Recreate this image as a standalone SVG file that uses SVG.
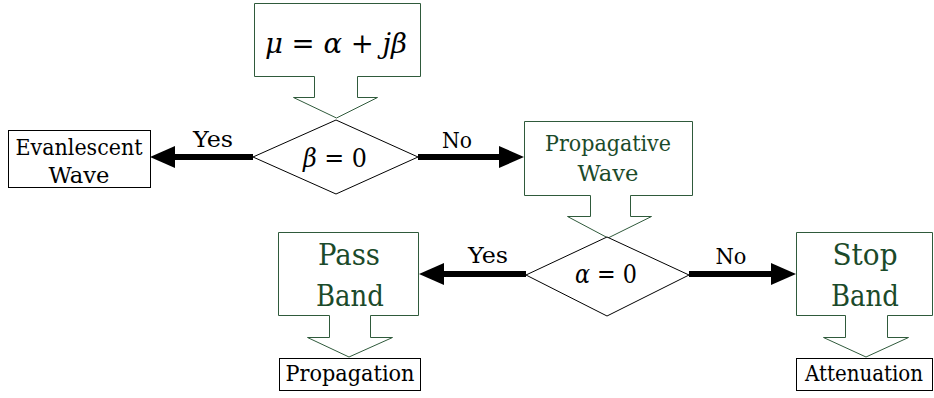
<svg xmlns="http://www.w3.org/2000/svg" width="934" height="398" viewBox="0 0 934 398">
<defs>
<style>
.bg{fill:#fff}
.box{fill:#fff;stroke:#000;stroke-width:1}
.call{fill:#fff;stroke:#2f5a3b;stroke-width:1}
.dia{fill:#fff;stroke:#000;stroke-width:1}
.t{font-family:"DejaVu Serif",serif;font-size:23px;fill:#000;text-anchor:middle}
.g{fill:#1b4a2a}
.big{font-size:30px}
.sm{font-size:22px}
.m{font-family:"DejaVu Serif",serif;font-size:26px;fill:#000;text-anchor:middle}
.mu{font-size:28px}
.i{font-style:italic}
.arr{stroke:#000;stroke-width:6;fill:none;marker-end:url(#ah)}
</style>
<marker id="ah" viewBox="0 0 25 22" refX="5" refY="11" markerWidth="25" markerHeight="22" markerUnits="userSpaceOnUse" orient="auto">
<path d="M0,0 L25,11 L0,22 Z" fill="#000"/>
</marker>
</defs>
<rect class="bg" x="0" y="0" width="934" height="398"/>

<g id="connectors">
<line class="arr" x1="253" y1="157" x2="170" y2="157"/>
<line class="arr" x1="418" y1="157" x2="504" y2="157"/>
<line class="arr" x1="526" y1="274" x2="439" y2="274"/>
<line class="arr" x1="689" y1="274" x2="776" y2="274"/>
<text class="t" x="213" y="147" textLength="40" lengthAdjust="spacingAndGlyphs">Yes</text>
<text class="t" x="457" y="148" textLength="30" lengthAdjust="spacingAndGlyphs">No</text>
<text class="t" x="488" y="263" textLength="40" lengthAdjust="spacingAndGlyphs">Yes</text>
<text class="t" x="731" y="264" textLength="31" lengthAdjust="spacingAndGlyphs">No</text>
</g>

<g id="mu">
<path class="call" d="M254.5,3.5 H420.5 V76.5 H357.5 V97.5 H377.5 L336.5,118 L293.5,97.5 H314.5 V76.5 H254.5 Z"/>
<text class="m mu" x="336" y="53" textLength="142" lengthAdjust="spacingAndGlyphs"><tspan class="i">μ</tspan> = <tspan class="i">α</tspan> + <tspan class="i">jβ</tspan></text>
</g>

<g id="beta">
<path class="dia" d="M336,120 L418,157 L336,194 L253,157 Z"/>
<text class="m" x="335" y="167" textLength="64" lengthAdjust="spacingAndGlyphs"><tspan class="i">β</tspan> = 0</text>
</g>

<g id="evanescent">
<rect class="box" x="8.5" y="130.5" width="142" height="57"/>
<text class="t" x="79" y="155" textLength="127" lengthAdjust="spacingAndGlyphs">Evanlescent</text>
<text class="t" x="79" y="183" textLength="61" lengthAdjust="spacingAndGlyphs">Wave</text>
</g>

<g id="propagative">
<path class="call" d="M524.5,121.5 H692.5 V195.5 H630.5 V216.5 H651.5 L608,238 L567.5,216.5 H590.5 V195.5 H524.5 Z"/>
<text class="t g" x="608" y="151" textLength="126" lengthAdjust="spacingAndGlyphs">Propagative</text>
<text class="t g" x="608" y="181" textLength="61" lengthAdjust="spacingAndGlyphs">Wave</text>
</g>

<g id="alpha">
<path class="dia" d="M607,237 L689,275 L607,316 L526,275 Z"/>
<text class="m" x="606" y="283" textLength="62" lengthAdjust="spacingAndGlyphs"><tspan class="i">α</tspan> = 0</text>
</g>

<g id="passband">
<path class="call" d="M278.5,232.5 H418.5 V315.5 H370.5 V337.5 H392.5 L349,357 L307.5,337.5 H329.5 V315.5 H278.5 Z"/>
<text class="t g big" x="349" y="265" textLength="62" lengthAdjust="spacingAndGlyphs">Pass</text>
<text class="t g big" x="350" y="306" textLength="68" lengthAdjust="spacingAndGlyphs">Band</text>
</g>

<g id="propagation">
<rect class="box" x="279.5" y="358.5" width="141" height="32"/>
<text class="t" x="350" y="381" textLength="129" lengthAdjust="spacingAndGlyphs">Propagation</text>
</g>

<g id="stopband">
<path class="call" d="M796.5,232.5 H932.5 V315.5 H887.5 V337.5 H908.5 L866,357 L823.5,337.5 H845.5 V315.5 H796.5 Z"/>
<text class="t g big" x="865" y="265" textLength="65" lengthAdjust="spacingAndGlyphs">Stop</text>
<text class="t g big" x="865" y="306" textLength="68" lengthAdjust="spacingAndGlyphs">Band</text>
</g>

<g id="attenuation">
<rect class="box" x="796.5" y="358.5" width="136" height="32"/>
<text class="t sm" x="864" y="381" textLength="118" lengthAdjust="spacingAndGlyphs">Attenuation</text>
</g>
</svg>
